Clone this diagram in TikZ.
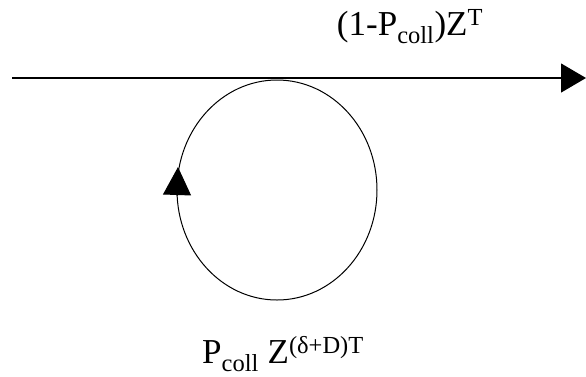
\documentclass[tikz,border=0pt]{standalone}
\usepackage{fontspec}
\setmainfont{Liberation Serif}
\usetikzlibrary{arrows.meta,calc}

\begin{document}
\begin{tikzpicture}[x=1pt,y=-1pt,
    etiqueta/.style={font=\fontsize{35}{38}\selectfont, inner sep=0pt, anchor=base}]

    \useasboundingbox (0,0) rectangle (586,376);

    % Puntos del eje
    \coordinate (inicio) at (12,78);
    \coordinate (fin) at (586,78);
    \coordinate (centro) at (277,190);

    % Flecha horizontal
    \draw[line width=1.2pt,-{Triangle[length=25pt,width=29pt]}] (inicio) -- (fin);

    % Lazo
    \draw[line width=1pt] (centro) ellipse (100 and 110);
    \coordinate (lazo1) at ($(centro)+(-100,6)$);
    \coordinate (lazo2) at ($(centro)+(-99,-23)$);
    \draw[line width=1pt,-{Triangle[length=28pt,width=28pt]}] (lazo1) -- (lazo2);

    % Etiquetas
    \node[etiqueta] (arriba) at (410,35) {(1-P\textsubscript{coll})Z\textsuperscript{T}};
    \node[etiqueta] (abajo) at (283,363) {P\textsubscript{coll} Z\textsuperscript{(δ+D)T}};

\end{tikzpicture}
\end{document}
